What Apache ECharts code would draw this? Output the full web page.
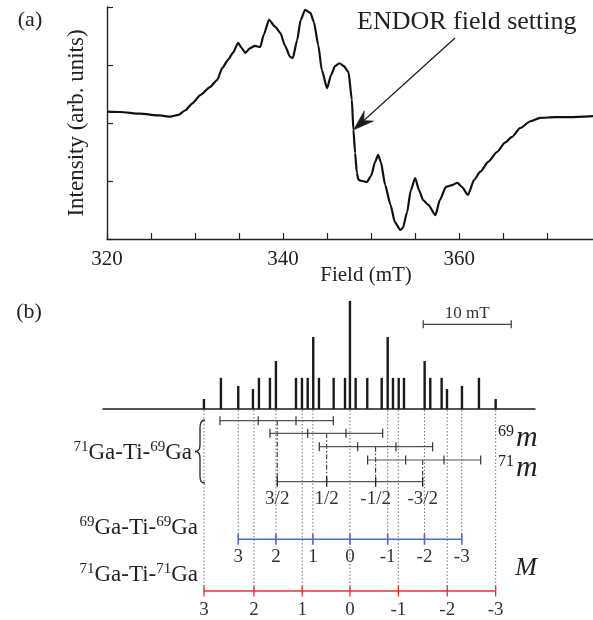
<!DOCTYPE html>
<html>
<head>
<meta charset="utf-8">
<script src="https://cdn.jsdelivr.net/npm/echarts@6/dist/echarts.min.js"></script>
<style>
  html, body { margin: 0; padding: 0; background: #fff; }
  #main { width: 593px; height: 620px; }
</style>
</head>
<body>
<div id="main"></div>
<script>
const SERIF = "'Liberation Serif', 'Times New Roman', serif";
const INK = '#1a1a1a';

// ---------- (a) EPR derivative trace: [field (mT), intensity (arb. units)] ----------
const eprTrace = [
  [320.0, 2.195], [321.5, 2.19], [323.75, 2.16], [326.0, 2.13], [327.2, 2.11],
  [328.1, 2.14], [328.9, 2.22], [329.7, 2.34], [330.6, 2.48], [331.7, 2.62],
  [332.5, 2.74], [333.1, 2.95], [333.75, 3.09], [334.3, 3.21], [334.9, 3.38],
  [335.3, 3.29], [335.7, 3.21], [336.25, 3.29], [336.8, 3.33], [337.4, 3.31],
  [337.8, 3.52], [338.4, 3.78], [339.1, 3.66], [339.7, 3.55], [340.2, 3.34],
  [340.8, 3.14], [341.1, 3.12], [341.6, 3.43], [342.0, 3.78], [342.5, 3.95],
  [343.1, 3.90], [343.5, 3.74], [344.0, 3.34], [344.4, 2.91], [345.0, 2.60],
  [345.45, 2.83], [345.9, 2.98], [346.4, 3.03], [346.9, 2.98], [347.43, 2.88],
  [347.81, 2.40], [347.99, 1.88], [348.18, 1.48], [348.38, 1.14], [348.56, 1.02],
  [349.0, 1.0], [349.5, 0.98], [350.0, 1.09], [350.45, 1.33], [350.8, 1.45],
  [351.1, 1.33], [351.6, 0.93], [352.2, 0.59], [352.7, 0.29], [353.3, 0.155],
  [353.6, 0.19], [354.1, 0.47], [354.5, 0.84], [355.0, 1.05], [355.45, 0.84],
  [355.9, 0.67], [356.5, 0.59], [357.3, 0.41], [357.8, 0.67], [358.5, 0.90],
  [359.2, 0.93], [359.8, 0.97], [360.3, 0.90], [361.0, 0.76], [361.7, 1.02],
  [362.4, 1.16], [363.3, 1.33], [364.3, 1.50], [365.2, 1.66], [366.0, 1.76],
  [366.9, 1.91], [368.1, 2.03], [369.2, 2.09], [370.9, 2.10], [372.6, 2.10],
  [375.2, 2.12]
];
const fieldRange = [320, 375.2];
const fieldTickValues = [320, 325, 330, 335, 340, 345, 350, 355, 360, 365, 370];
const fieldLabelValues = [320, 340, 360];
const intensityTickValues = [0, 1, 2, 3, 4];

// field at which the ENDOR spectra were taken
const endorPoint = [347.99, 1.88];

// ---------- (b) stick spectrum ----------
const stickField = [
  331.02, 332.95, 334.92, 336.59, 337.27, 338.52, 339.20, 341.48, 342.16, 342.81,
  343.44, 344.09, 345.76, 347.05, 347.61, 348.26, 349.58, 351.22, 351.90, 352.50,
  353.15, 353.75, 356.10, 356.74, 358.03, 358.64, 360.34, 362.27, 364.17
];
const stickHeight = [
  0.32, 1.0, 0.74, 0.64, 1.0, 1.0, 1.54, 1.0, 1.0, 1.0,
  2.31, 1.0, 1.0, 1.0, 3.47, 1.0, 1.0, 1.0, 2.31, 1.0,
  1.0, 1.0, 1.54, 1.0, 1.0, 0.64, 0.74, 1.0, 0.32
];
const stickFieldRange = [319.55, 368.64];

// 71Ga-Ti-71Ga and 69Ga-Ti-69Ga patterns, total M = 3 ... -3
const ga71PairField = [331.02, 336.70, 342.19, 347.61, 353.11, 358.67, 364.17];
const ga69PairField = [334.92, 339.20, 343.40, 347.61, 351.90, 356.08, 360.32];
const totalMLabels = ['3', '2', '1', '0', '-1', '-2', '-3'];

// 71Ga-Ti-69Ga: one 69Ga quartet for each 71Ga projection
const mixedRows = [
  [332.84, 337.19, 341.48, 345.72],
  [338.52, 342.81, 347.16, 351.33],
  [344.13, 348.49, 352.84, 357.01],
  [349.62, 353.94, 358.30, 362.47]
];
const mixed71Field = [339.35, 344.97, 350.53, 355.88];
const mixed71Labels = ['3/2', '1/2', '-1/2', '-3/2'];

// 10 mT scale bar
const scaleBarField = [355.94, 365.94];
const scaleBarLabel = '10 mT';

// vertical placement of the schemes in panel (b), px
const ROW = {
  mixed: [420.7, 433.3, 446.7, 460],
  mixed71: 481.7, mixed71Label: 499,
  blue: 539.3, blueLabel: 557.5,
  red: 591, redLabel: 610,
  scale: 324.3, scaleLabel: 313.5
};
const RED = '#e8302a';
const BLUE = '#4b6cb7';
const GREY = '#555';

const chart = echarts.init(document.getElementById('main'), null, { renderer: 'canvas', width: 593, height: 620 });

function schemeRender(params, api) {
  const X = f => api.coord([f, 0])[0];
  const yBase = api.coord([stickField[0], 0])[1];
  const kids = [];
  const seg = (x1, y1, x2, y2, stroke, lw, dash) => kids.push({
    type: 'line', shape: { x1, y1, x2, y2 },
    style: { stroke, lineWidth: lw, lineDash: dash || null }
  });
  const label = (x, y, text, size, fill) => kids.push({
    type: 'text', x, y,
    style: { text, fill, fontSize: size, fontFamily: SERIF,
      align: 'center', verticalAlign: 'middle', textAlign: 'center', textVerticalAlign: 'middle' }
  });
  const bar = (fields, y, stroke, lw, half, tickStroke) => {
    seg(X(fields[0]), y, X(fields[fields.length - 1]), y, stroke, lw);
    fields.forEach(f => seg(X(f), y - half, X(f), y + half, tickStroke || stroke, lw));
  };

  // dotted guides from the stick baseline down to the pair patterns
  ga71PairField.forEach(f => seg(X(f), yBase + 1, X(f), ROW.red, '#777', 1, [1.5, 2]));
  ga69PairField.forEach(f => {
    if (!ga71PairField.includes(f)) seg(X(f), yBase + 1, X(f), ROW.blue, '#777', 1, [1.5, 2]);
  });

  // dash-dot connectors from each quartet centre to its 71Ga projection
  mixedRows.forEach((row, i) => seg(X(mixed71Field[i]), ROW.mixed[i], X(mixed71Field[i]), ROW.mixed71, '#222', 1, [5, 2, 1.5, 2]));

  // 69Ga quartets
  mixedRows.forEach((row, i) => bar(row, ROW.mixed[i], GREY, 1.2, 4.5, '#333'));
  // 71Ga projections
  bar(mixed71Field, ROW.mixed71, GREY, 1.3, 5, '#222');
  mixed71Field.forEach((f, i) => label(X(f), ROW.mixed71Label, mixed71Labels[i], 19, '#333'));

  // 69Ga-Ti-69Ga
  bar(ga69PairField, ROW.blue, BLUE, 1.6, 5.5);
  ga69PairField.forEach((f, i) => label(X(f), ROW.blueLabel, totalMLabels[i], 19, '#333'));

  // 71Ga-Ti-71Ga
  bar(ga71PairField, ROW.red, RED, 1.3, 5.5);
  ga71PairField.forEach((f, i) => label(X(f), ROW.redLabel, totalMLabels[i], 19, '#333'));

  // scale bar
  bar(scaleBarField, ROW.scale, '#444', 1.3, 4);
  label((X(scaleBarField[0]) + X(scaleBarField[1])) / 2, ROW.scaleLabel, scaleBarLabel, 17, '#333');

  return { type: 'group', children: kids };
}

function arrowRender(params, api) {
  const tip = api.coord([api.value(0), api.value(1)]);
  const tail = [455, 38];
  const dx = tail[0] - tip[0], dy = tail[1] - tip[1];
  const len = Math.hypot(dx, dy);
  const u = [dx / len, dy / len], p = [-u[1], u[0]];
  const L = 21, W = 7, N = 14;
  const back = [tip[0] + L * u[0], tip[1] + L * u[1]];
  const notch = [tip[0] + N * u[0], tip[1] + N * u[1]];
  return {
    type: 'group',
    children: [
      { type: 'line', shape: { x1: tail[0], y1: tail[1], x2: notch[0], y2: notch[1] },
        style: { stroke: INK, lineWidth: 1.2 } },
      { type: 'polygon',
        shape: { points: [tip, [back[0] + W * p[0], back[1] + W * p[1]], notch, [back[0] - W * p[0], back[1] - W * p[1]]] },
        style: { fill: INK, stroke: INK, lineWidth: 0.5 } }
    ]
  };
}

const textStyle = (size, extra) => Object.assign({ fontFamily: SERIF, fontSize: size, fill: '#222' }, extra || {});
const braceStroke = { stroke: '#222', lineWidth: 1.3, fill: null };
const supRich = { s: { fontSize: 15, fontFamily: SERIF, fill: '#222', verticalAlign: 'top', lineHeight: 15 } };

chart.setOption({
  animation: false,
  backgroundColor: '#fff',
  grid: [
    { left: 107, top: 7, width: 486, height: 232 },
    { left: 103, top: 300, width: 432, height: 109 }
  ],
  xAxis: [
    {
      gridIndex: 0, type: 'value', min: fieldRange[0], max: fieldRange[1],
      axisLine: { lineStyle: { color: '#222', width: 1.4 } },
      axisTick: { inside: true, length: 6, lineStyle: { color: '#222', width: 1.2 }, customValues: fieldTickValues },
      axisLabel: { customValues: fieldLabelValues, margin: 10, color: '#222', fontSize: 21, fontFamily: SERIF },
      splitLine: { show: false }
    },
    {
      gridIndex: 1, type: 'value', min: stickFieldRange[0], max: stickFieldRange[1],
      axisLine: { lineStyle: { color: INK, width: 1.5 } },
      axisTick: { show: false }, axisLabel: { show: false }, splitLine: { show: false }
    }
  ],
  yAxis: [
    {
      gridIndex: 0, type: 'value', min: 0, max: 4,
      name: 'Intensity (arb. units)', nameLocation: 'middle', nameGap: 19,
      nameTextStyle: { fontSize: 23, fontFamily: SERIF, color: '#222' },
      axisLine: { show: true, lineStyle: { color: '#222', width: 1.4 } },
      axisTick: { inside: true, length: 6, lineStyle: { color: '#222', width: 1.2 }, customValues: intensityTickValues },
      axisLabel: { show: false }, splitLine: { show: false }
    },
    { gridIndex: 1, type: 'value', min: 0, max: 3.5, show: false }
  ],
  series: [
    {
      name: 'EPR', type: 'line', xAxisIndex: 0, yAxisIndex: 0,
      data: eprTrace, showSymbol: false, smooth: 0.2, smoothMonotone: 'x',
      lineStyle: { color: '#111', width: 2.2 }, z: 3
    },
    {
      name: 'ENDOR field', type: 'custom', xAxisIndex: 0, yAxisIndex: 0,
      data: [endorPoint], renderItem: arrowRender, clip: false, z: 4
    },
    {
      name: 'sticks', type: 'custom', xAxisIndex: 1, yAxisIndex: 1,
      data: stickField.map((f, i) => [f, stickHeight[i]]),
      renderItem: (params, api) => {
        const a = api.coord([api.value(0), 0]);
        const b = api.coord([api.value(0), api.value(1)]);
        return { type: 'line', shape: { x1: a[0], y1: a[1], x2: b[0], y2: b[1] },
          style: { stroke: INK, lineWidth: 2.4 } };
      },
      clip: false, z: 3
    },
    {
      name: 'schemes', type: 'custom', xAxisIndex: 1, yAxisIndex: 1,
      data: [[ga71PairField[3], 0]], renderItem: schemeRender, clip: false, z: 2
    }
  ],
  graphic: [
    { type: 'text', x: 30, y: 20, style: textStyle(22, { text: '(a)', align: 'center', verticalAlign: 'middle' }) },
    { type: 'text', x: 29, y: 312, style: textStyle(22, { text: '(b)', align: 'center', verticalAlign: 'middle' }) },
    { type: 'text', x: 366, y: 275, style: textStyle(21, { text: 'Field (mT)', align: 'center', verticalAlign: 'middle' }) },
    { type: 'text', x: 357, y: 22, style: textStyle(26, { text: 'ENDOR field setting', align: 'left', verticalAlign: 'middle' }) },
    { type: 'text', x: 192, y: 453, style: textStyle(23, {
        text: '{s|71}Ga-Ti-{s|69}Ga', align: 'right', verticalAlign: 'middle', lineHeight: 27, rich: supRich }) },
    { type: 'text', x: 198, y: 528, style: textStyle(23, {
        text: '{s|69}Ga-Ti-{s|69}Ga', align: 'right', verticalAlign: 'middle', lineHeight: 27, rich: supRich }) },
    { type: 'text', x: 198, y: 575, style: textStyle(23, {
        text: '{s|71}Ga-Ti-{s|71}Ga', align: 'right', verticalAlign: 'middle', lineHeight: 27, rich: supRich }) },
    // curly brace grouping the four quartets
    { type: 'bezierCurve', shape: { x1: 205, y1: 420, cpx1: 201, cpy1: 420, cpx2: 200, cpy2: 423, x2: 200, y2: 428 }, style: braceStroke },
    { type: 'line', shape: { x1: 200, y1: 428, x2: 200, y2: 445 }, style: braceStroke },
    { type: 'bezierCurve', shape: { x1: 200, y1: 445, cpx1: 200, cpy1: 449.5, cpx2: 198, cpy2: 451.5, x2: 195, y2: 451.5 }, style: braceStroke },
    { type: 'bezierCurve', shape: { x1: 195, y1: 451.5, cpx1: 198, cpy1: 451.5, cpx2: 200, cpy2: 453.5, x2: 200, y2: 458 }, style: braceStroke },
    { type: 'line', shape: { x1: 200, y1: 458, x2: 200, y2: 476 }, style: braceStroke },
    { type: 'bezierCurve', shape: { x1: 200, y1: 476, cpx1: 200, cpy1: 481, cpx2: 201, cpy2: 483, x2: 205, y2: 483 }, style: braceStroke },
    { type: 'text', x: 498, y: 432, style: textStyle(16, { text: '69', align: 'left', verticalAlign: 'middle' }) },
    { type: 'text', x: 516, y: 438, style: textStyle(30, { text: 'm', fontStyle: 'italic', align: 'left', verticalAlign: 'middle' }) },
    { type: 'text', x: 498, y: 462, style: textStyle(16, { text: '71', align: 'left', verticalAlign: 'middle' }) },
    { type: 'text', x: 516, y: 468, style: textStyle(30, { text: 'm', fontStyle: 'italic', align: 'left', verticalAlign: 'middle' }) },
    { type: 'text', x: 526, y: 568, style: textStyle(26, { text: 'M', fontStyle: 'italic', align: 'center', verticalAlign: 'middle' }) }
  ]
});
</script>
</body>
</html>
